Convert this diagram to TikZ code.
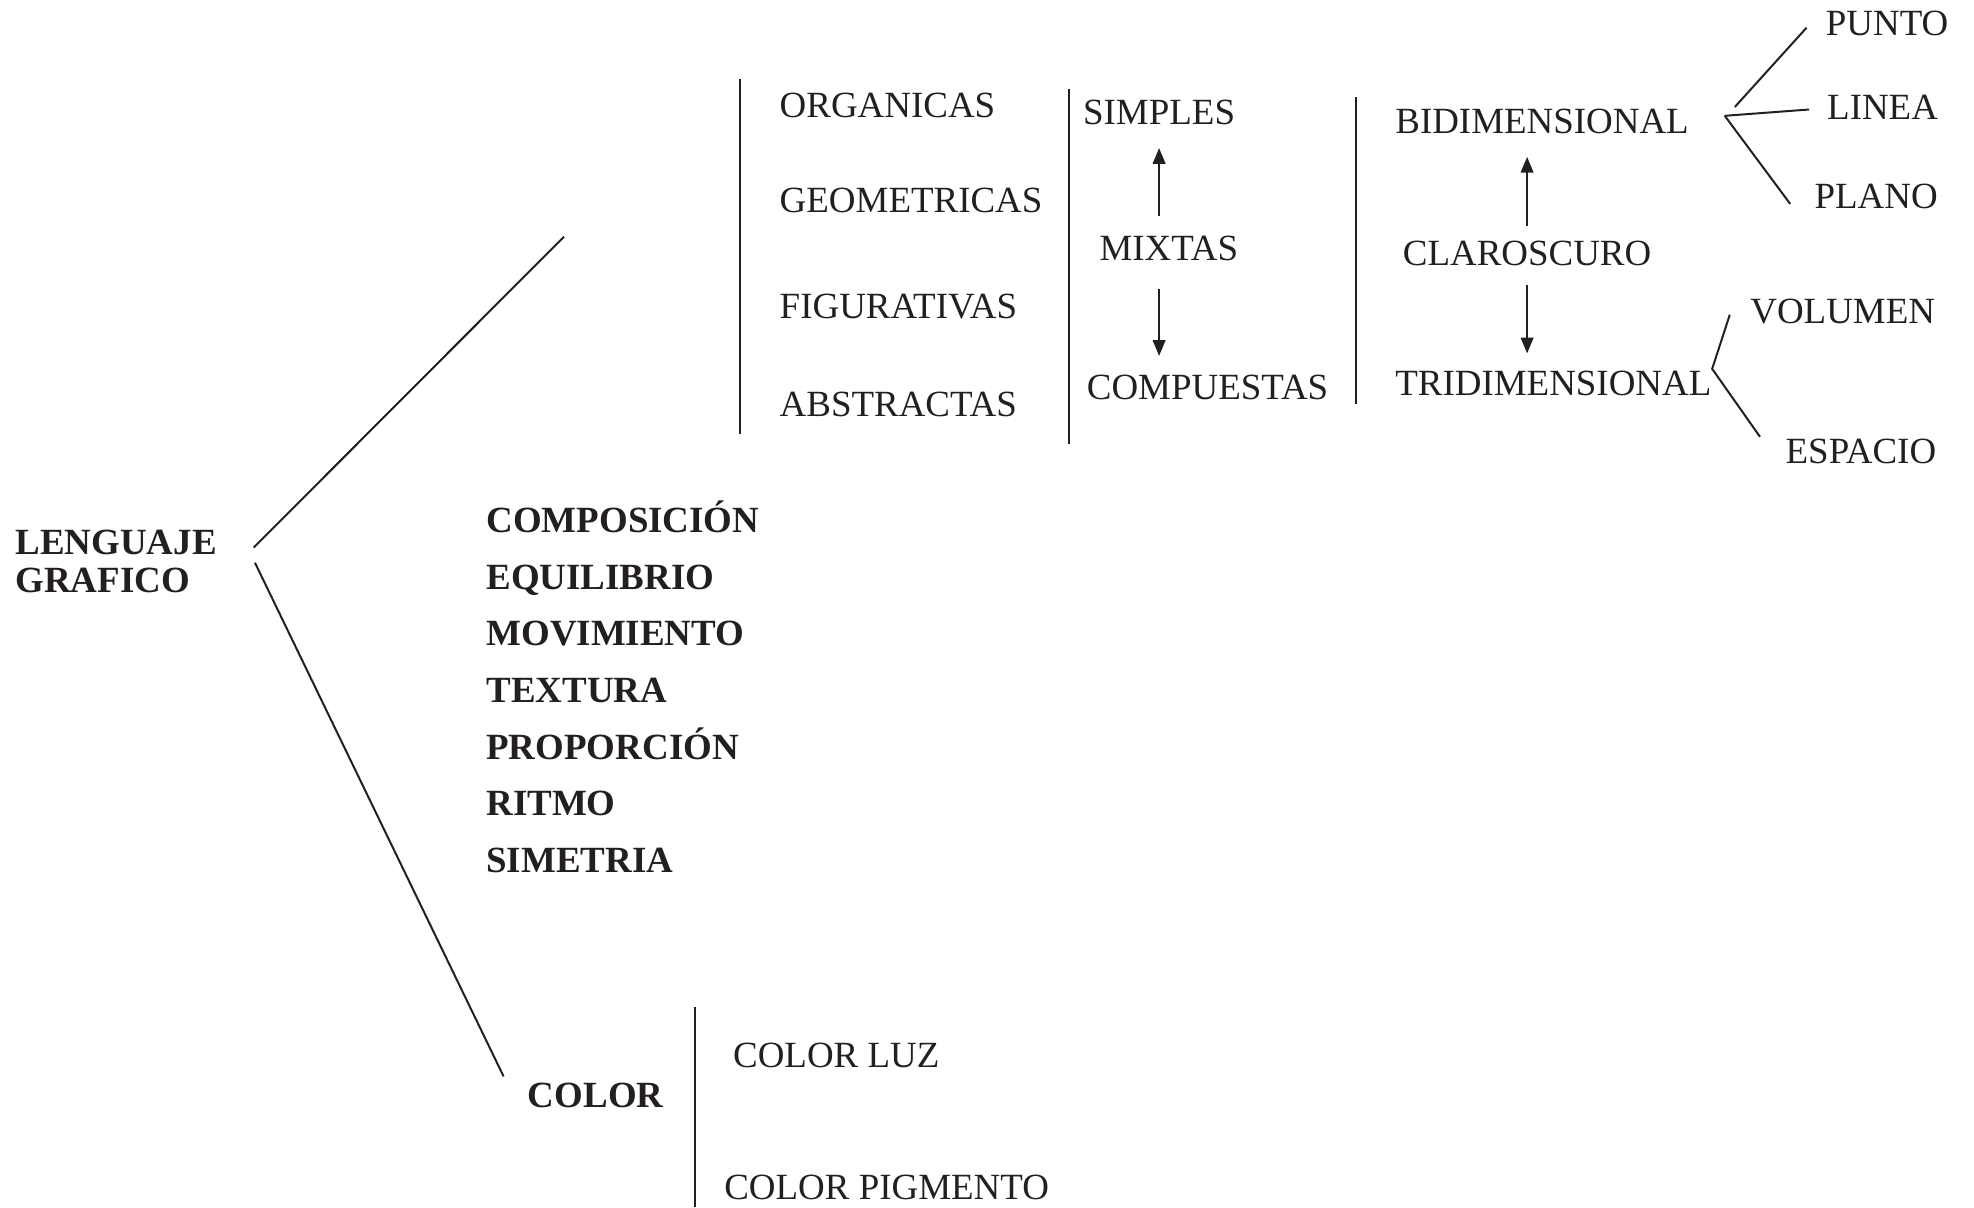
\documentclass[tikz,border=0pt]{standalone}
\usepackage{fontspec}
\setmainfont{Liberation Serif}
\usepackage{xcolor}
\usetikzlibrary{arrows.meta}
\definecolor{ink}{RGB}{35,31,32}
\tikzstyle{lbl}=[inner sep=0pt, anchor=base west, text=ink, font=\fontsize{16.7}{17.6}\selectfont]
\tikzstyle{blbl}=[lbl, font=\fontsize{16.7}{17.6}\selectfont\bfseries]
\tikzset{bar/.style={line width=1.1pt, color=ink}}
\tikzset{branch/.style={line width=0.9pt, color=ink}}
\tikzset{updown/.style={-{Triangle[length=2.5mm,width=2mm]}, line width=0.9pt, color=ink}}

\begin{document}
\begin{tikzpicture}
  \useasboundingbox (0,0) rectangle (31.36,19.18);
  \draw (0.24,10.26) node[blbl,align=left,anchor=west] (LG) {LENGUAJE\\GRAFICO};

  %% Formas
  \draw (12.38,17.32) node[lbl] (F1) {ORGANICAS};
  \draw (12.38,15.80) node[lbl] (F2) {GEOMETRICAS};
  \draw (12.38,14.12) node[lbl] (F3) {FIGURATIVAS};
  \draw (12.38,12.56) node[lbl] (F4) {ABSTRACTAS};

  \draw (17.20,17.20) node[lbl] (C1) {SIMPLES};
  \draw (17.46,15.04) node[lbl] (C2) {MIXTAS};
  \draw (17.26,12.84) node[lbl] (C3) {COMPUESTAS};

  \draw (22.16,17.06) node[lbl] (D1) {BIDIMENSIONAL};
  \draw (22.28,14.96) node[lbl] (D2) {CLAROSCURO};
  \draw (22.16,12.90) node[lbl] (D3) {TRIDIMENSIONAL};

  \draw (29.00,18.62) node[lbl] (B1) {PUNTO};
  \draw (29.02,17.28) node[lbl] (B2) {LINEA};
  \draw (28.82,15.86) node[lbl] (B3) {PLANO};
  \draw (27.80,14.04) node[lbl] (V1) {VOLUMEN};
  \draw (28.36,11.82) node[lbl] (V2) {ESPACIO};

  %% Elementos
  \draw (7.72,10.72) node[blbl] (E1) {COMPOSICIÓN};
  \draw (7.72,9.82) node[blbl] (E2) {EQUILIBRIO};
  \draw (7.72,8.92) node[blbl] (E3) {MOVIMIENTO};
  \draw (7.72,8.02) node[blbl] (E4) {TEXTURA};
  \draw (7.72,7.12) node[blbl] (E5) {PROPORCIÓN};
  \draw (7.72,6.22) node[blbl] (E6) {RITMO};
  \draw (7.72,5.32) node[blbl] (E7) {SIMETRIA};

  %% Color
  \draw (8.38,1.58) node[blbl] (K0) {COLOR};
  \draw (11.64,2.22) node[lbl] (K1) {COLOR LUZ};
  \draw (11.50,0.12) node[lbl] (K2) {COLOR PIGMENTO};

  %% Branches
  \coordinate (LGu) at ([xshift=5.8mm,yshift=2.2mm]LG.east);
  \coordinate (LGd) at ([xshift=6mm,yshift=-0.2mm]LG.east);
  \coordinate (Fu) at (8.96,15.42);
  \coordinate (Kd) at ([xshift=-3.8mm,yshift=5mm]K0.base west);
  \draw[branch] (LGu) -- (Fu);
  \draw[branch] (LGd) -- (Kd);

  \draw[bar] (11.76,17.92) -- (11.76,12.28);
  \draw[bar] (16.98,17.76) -- (16.98,12.12);
  \draw[bar] (21.54,17.64) -- (21.54,12.76);
  \draw[bar] (11.04,3.18) -- (11.04,0);

  \draw[updown,shorten <=3.1mm,shorten >=3.6mm] (C1.south |- C2.north) -- (C1.south);
  \draw[updown,shorten <=4.4mm,shorten >=2.9mm] (C1.south |- C2.south) -- (C1.south |- C3.north);
  \draw[updown,shorten <=2.3mm,shorten >=3.6mm] (D2.north) -- (D2.north |- D1.south);
  \draw[updown,shorten <=3mm,shorten >=2.7mm] (D2.south) -- (D2.south |- D3.north);

  %% Fans
  \coordinate (Dj) at (27.40,17.34);
  \coordinate (Dp) at (27.56,17.48);
  \coordinate (B1e) at (28.70,18.74);
  \coordinate (B2e) at (28.74,17.44);
  \coordinate (B3e) at (28.44,15.94);
  \draw[branch] (Dp) -- (B1e);
  \draw[branch] (Dj) -- (B2e);
  \draw[branch] (Dj) -- (B3e);

  \coordinate (Tj) at (27.20,13.32);
  \coordinate (V1e) at (27.48,14.18);
  \coordinate (V2e) at (27.96,12.24);
  \draw[branch] (V1e) -- (Tj) -- (V2e);
\end{tikzpicture}
\end{document}
